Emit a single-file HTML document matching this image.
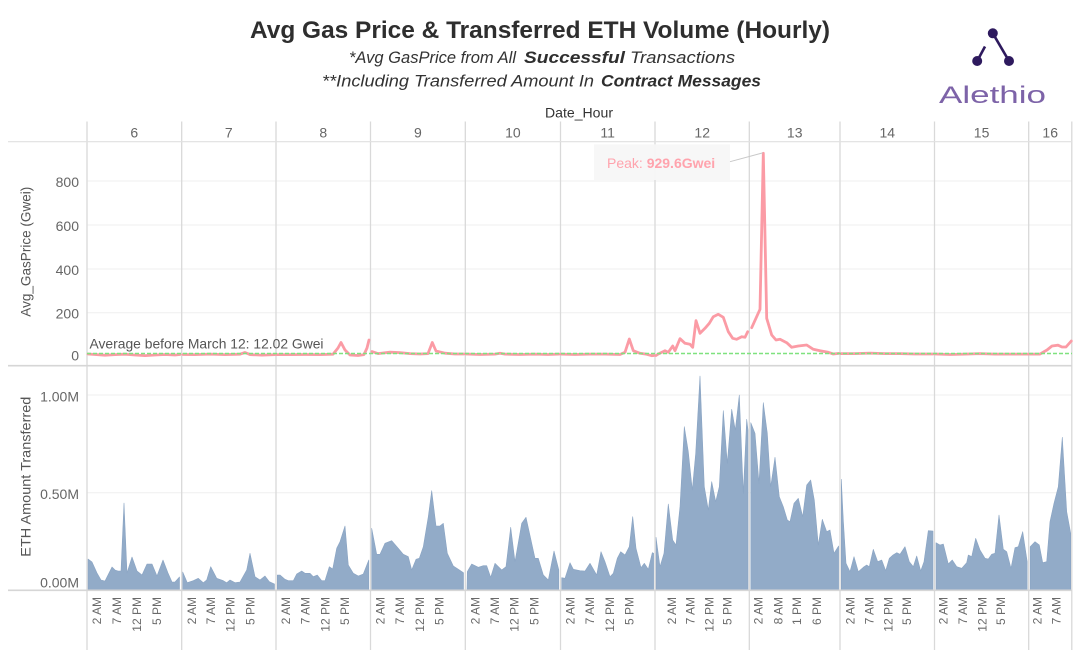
<!DOCTYPE html>
<html>
<head>
<meta charset="utf-8">
<style>
html,body{margin:0;padding:0;background:#fff;}
svg{display:block;}
text{font-family:"Liberation Sans",sans-serif;}
</style>
</head>
<body>
<svg width="1080" height="660" viewBox="0 0 1080 660" xmlns="http://www.w3.org/2000/svg">
<rect x="0" y="0" width="1080" height="660" fill="#fff"/>

<!-- Title -->
<text x="540" y="38" text-anchor="middle" font-size="24" font-weight="bold" fill="#2e2e2e" textLength="580" lengthAdjust="spacingAndGlyphs">Avg Gas Price &amp; Transferred ETH Volume (Hourly)</text>
<text x="349" y="63" font-size="17" font-style="italic" fill="#333" textLength="167" lengthAdjust="spacingAndGlyphs">*Avg GasPrice from All</text>
<text x="524" y="63" font-size="17" font-style="italic" font-weight="bold" fill="#2e2e2e" textLength="101" lengthAdjust="spacingAndGlyphs">Successful</text>
<text x="630" y="63" font-size="17" font-style="italic" fill="#333" textLength="105" lengthAdjust="spacingAndGlyphs">Transactions</text>
<text x="322" y="86.5" font-size="17" font-style="italic" fill="#333" textLength="272" lengthAdjust="spacingAndGlyphs">**Including Transferred Amount In</text>
<text x="601" y="86.5" font-size="17" font-style="italic" font-weight="bold" fill="#2e2e2e" textLength="160" lengthAdjust="spacingAndGlyphs">Contract Messages</text>

<!-- Logo -->
<line x1="992.8" y1="33.3" x2="1009" y2="61" stroke="#2e1a5e" stroke-width="2.6"/>
<line x1="977.2" y1="61" x2="985" y2="46.5" stroke="#2e1a5e" stroke-width="2.6"/>
<circle cx="992.8" cy="33.3" r="5" fill="#2e1a5e"/>
<circle cx="977.2" cy="61" r="5" fill="#2e1a5e"/>
<circle cx="1009" cy="61" r="5" fill="#2e1a5e"/>
<text x="939" y="103" font-size="24" fill="#7d63a8" textLength="107" lengthAdjust="spacingAndGlyphs">Alethio</text>

<!-- Header -->
<text x="545" y="117.5" font-size="14" fill="#333" textLength="68" lengthAdjust="spacingAndGlyphs">Date_Hour</text>
<g font-size="14" fill="#666" text-anchor="middle">
<text x="134.3" y="137.5">6</text>
<text x="228.8" y="137.5">7</text>
<text x="323.3" y="137.5">8</text>
<text x="417.9" y="137.5">9</text>
<text x="512.9" y="137.5">10</text>
<text x="607.7" y="137.5">11</text>
<text x="702.2" y="137.5">12</text>
<text x="794.7" y="137.5">13</text>
<text x="887.3" y="137.5">14</text>
<text x="981.6" y="137.5">15</text>
<text x="1050.2" y="137.5">16</text>
</g>

<!-- Grid lines -->
<g stroke="#efefef" stroke-width="1">
<line x1="87" y1="181" x2="1072" y2="181"/>
<line x1="87" y1="225" x2="1072" y2="225"/>
<line x1="87" y1="269" x2="1072" y2="269"/>
<line x1="87" y1="312.7" x2="1072" y2="312.7"/>
<line x1="87" y1="395" x2="1072" y2="395"/>
<line x1="87" y1="492.7" x2="1072" y2="492.7"/>
</g>

<!-- Area (ETH volume) -->
<g fill="#92abc8" stroke="#8aa4c3" stroke-width="0.6" stroke-linejoin="round">
<polygon points="88,590 88,559 92,562 97,573 101,580 105,581 112,567 115,570 118,571 121,571 124,503 127,573 132,557 137,571 142,575 147,564 152,564 157,576 163,560 168,573 172,582 175,582 179.5,577 179.5,590"/>
<polygon points="182.7,590 182.7,572 187.3,582.7 193.3,580.7 198.3,578.3 203.3,582.7 206.7,580 210.7,566.7 216.7,578.3 223.3,580.7 226.7,582.7 230,580 235,582.7 240,582 246.7,570 250,553.3 255,576.7 260,580 265,576 269.3,581.7 274.5,584 274.5,590"/>
<polygon points="277.3,590 277.3,575 280,575 285,579.3 288.3,580.7 293.3,580.7 296.7,574 301.7,571 305,573.3 310,573.3 313.3,576.7 317.3,575 321.7,580.7 325,580.7 329.3,566.7 332.7,569 336.7,548.3 340,541.7 345,526 348.3,565 353.3,573.3 358.3,576 363.3,574 368.8,560 368.8,590"/>
<polygon points="371.7,590 371.7,528.3 376.7,554.3 380,554.3 385,543.3 391.7,540.7 398.3,548.3 403.3,554.3 408.3,556.7 411.7,570 416,559.3 419.3,558.3 423.3,546.7 428.3,516.7 431.7,490.7 436,526 440,526 443.3,523.3 447.3,553.3 453.3,566 458.3,569.3 463.5,572.7 463.5,590"/>
<polygon points="467,590 467.3,571.7 471.7,564 478.3,567.3 483.3,565.7 486.7,565.7 490.7,577.3 495,563.3 501.7,570 506,566.7 510.7,527.3 515,561.7 521.7,523.3 526,517.3 535,558.3 538.3,558.3 543.3,575 548.3,580 554,551 558.8,570 558.8,590"/>
<polygon points="561.7,590 561.7,577.7 565,578.3 570,562.7 573.3,569.3 580,570.7 585,571 590,563.3 596.7,575 601,551.7 605,561.7 610,576.7 613.3,573.3 617.3,558.3 620.7,551.7 625,555 629.3,546.7 632.7,516.7 636,548.3 641,567.7 644.3,563.3 648.3,569.3 652.3,552.7 653.6,553.3 653.6,590"/>
<polygon points="656,590 656,537.3 660,566.7 664,553.3 668.3,504 672.7,540 676,545 680,506.7 684.3,426.7 688.3,451.7 692.3,490 695.7,453.3 700,376 704.3,486.7 708.3,510 711.7,481.7 715.7,501.7 719.3,486.7 723.3,410.7 727.3,463.3 731.7,409.3 735.3,430 739.3,395 743.3,493.3 746.7,419.3 748,430 748,590"/>
<polygon points="750.8,590 750.8,422.7 755,433.3 759,483.3 763.3,402.7 767.3,433.3 770.7,486.7 775,457.3 779.3,496.7 783.3,506.7 787.3,520 790,521.7 794,503.3 798.3,498.3 802.7,516.7 806.7,485 810.7,480 814.3,500 818.3,545 822.3,519.3 826.7,531.7 830,530 834,553.3 838.6,546 838.6,590"/>
<polygon points="841.3,590 841.3,479.3 843.3,520 846,563.3 850,571.7 854,556.7 858.3,571.7 863.3,567.3 866.7,565 869.3,566.7 873.3,549.3 877.7,561.7 881.7,560 885.7,570.7 889.3,558.3 893,555 896.7,552.7 900,554.3 905,546.7 909.3,561.7 913.3,566.7 916.7,556 920.7,571 924,561.7 928.3,530.7 933,531 933,590"/>
<polygon points="936,590 936,542.7 940,545 943.3,544 948.3,564 952.3,560 956.7,566.7 961.7,568.3 966.7,562.7 968.3,555 971.7,556.7 975.7,538.3 980,550 985,558.3 988.3,559 991.7,554.3 995,553.3 999,515 1003.3,549.3 1006.7,551.7 1011,568.3 1015,547.7 1018.3,546.7 1022.7,531.7 1027.2,561.7 1027.2,590"/>
<polygon points="1030.2,590 1030.2,546.7 1035,541.7 1039.3,545 1042.7,562.7 1046.7,561.7 1050,521.7 1054,503.3 1058.3,486.7 1062.3,437.3 1066.7,511.7 1070.7,533.3 1070.7,590"/>
</g>

<!-- Day vertical lines -->
<g stroke="#d9d9d9" stroke-width="1.3">
<line x1="87" y1="121.5" x2="87" y2="650"/>
<line x1="181.7" y1="121.5" x2="181.7" y2="650"/>
<line x1="276" y1="121.5" x2="276" y2="650"/>
<line x1="370.5" y1="121.5" x2="370.5" y2="650"/>
<line x1="465.3" y1="121.5" x2="465.3" y2="650"/>
<line x1="560.5" y1="121.5" x2="560.5" y2="650"/>
<line x1="655" y1="121.5" x2="655" y2="650"/>
<line x1="749.3" y1="121.5" x2="749.3" y2="650"/>
<line x1="840" y1="121.5" x2="840" y2="650"/>
<line x1="934.5" y1="121.5" x2="934.5" y2="650"/>
<line x1="1028.7" y1="121.5" x2="1028.7" y2="650"/>
<line x1="1071.8" y1="121.5" x2="1071.8" y2="650"/>
</g>

<!-- Horizontal structure lines -->
<line x1="8" y1="141.7" x2="1072" y2="141.7" stroke="#e0e0e0" stroke-width="1.2"/>
<line x1="8" y1="365.7" x2="1072" y2="365.7" stroke="#d6d6d6" stroke-width="1.6"/>
<line x1="8" y1="590.3" x2="1072" y2="590.3" stroke="#d6d6d6" stroke-width="1.6"/>

<!-- Gas price line -->
<g fill="none" stroke="#fb9ba5" stroke-width="2.8" stroke-linejoin="round" stroke-linecap="round">
<polyline points="88,354 95,354.5 105,355.2 115,354.6 125,354.2 135,355 145,355.6 155,355 165,354.5 175,355 180,354.5"/>
<polyline points="183,354.5 195,354.6 210,354.1 225,354.6 240,354.2 245,352.5 250,354.6 262,355.1 275,354.6"/>
<polyline points="277,354.6 290,354.6 305,354.5 320,354.6 333,354.2 338,348 341,342.5 345,350 350,355 358,355.5 364,354.6 367,348 369,340"/>
<polyline points="372,351.6 378,353.6 390,352.2 400,352.6 410,353.6 420,354 428,353.6 432.3,342.5 436,351 445,353.2 455,354 464,354"/>
<polyline points="466,354 480,354.5 495,354.1 500,353.2 505,354.1 520,354.5 535,354.1 548,354.5 559,354.1"/>
<polyline points="561,354.1 575,354.5 590,354.1 605,354.1 620,354.5 625,352.3 629.3,339 633.3,350.7 640,353.3 646.7,354.3 651.7,355.7 654,355.5"/>
<polyline points="656,355.5 658.3,354 665,350.7 668.3,352.3 672.7,346 675,350.7 680,338.7 685,343.3 690,344.3 692.7,347.3 696,320.7 700,333.3 705,328.3 709.3,323.3 713.3,316.7 718.3,314.3 723.3,317.3 728.3,331.7 732.7,338.3 736.7,339.3 741.7,336.7 745,337.3 747.7,331.7"/>
<polyline points="751.7,327.7 760,309.3 763.3,153.3 766.7,318.3 771.7,335 776,340 780,339.3 786.7,342.7 791.7,347.3 798.3,346 806.7,345 813.3,349.3 820,350.7 828.3,352.3 833.3,354 839,353.4"/>
<polyline points="841,353.6 855,353.6 870,353.1 885,353.6 900,353.6 915,354 933,354"/>
<polyline points="935,354 950,354.5 965,354.1 980,353.6 995,354.1 1010,354.1 1028,354.1"/>
<polyline points="1030,354.1 1040,354.1 1047,350 1052,346 1058,345.2 1062,347 1066,347 1071.3,341"/>
</g>

<!-- Average reference line -->
<line x1="87" y1="353.5" x2="1072" y2="353.5" stroke="#7fe27f" stroke-width="1.5" stroke-dasharray="4,2"/>
<text x="89.5" y="348.5" font-size="14" fill="#555" textLength="234" lengthAdjust="spacingAndGlyphs">Average before March 12: 12.02 Gwei</text>

<!-- Peak annotation -->
<rect x="594" y="144.3" width="136" height="35.7" fill="#f6f6f6" opacity="0.92"/>
<line x1="730" y1="161.7" x2="762.7" y2="152.9" stroke="#c8c8c8" stroke-width="1"/>
<text x="607" y="167.8" font-size="14" fill="#ffa3ad"><tspan>Peak: </tspan><tspan font-weight="bold">929.6Gwei</tspan></text>

<!-- Y tick labels -->
<g font-size="14" fill="#666" text-anchor="end">
<text x="79" y="187">800</text>
<text x="79" y="231">600</text>
<text x="79" y="275">400</text>
<text x="79" y="318.7">200</text>
<text x="79" y="360.5">0</text>
<text x="79" y="401.5">1.00M</text>
<text x="79" y="499.2">0.50M</text>
<text x="79" y="587.5">0.00M</text>
</g>

<!-- Axis titles -->
<text transform="translate(30.5,251.7) rotate(-90)" text-anchor="middle" font-size="14" fill="#555" textLength="130" lengthAdjust="spacingAndGlyphs">Avg_GasPrice (Gwei)</text>
<text transform="translate(30.5,476.7) rotate(-90)" text-anchor="middle" font-size="14" fill="#555" textLength="160" lengthAdjust="spacingAndGlyphs">ETH Amount Transferred</text>

<!-- X tick labels -->
<g font-size="12" fill="#6a6a6a" text-anchor="end">
<text transform="translate(101,597) rotate(-90)">2 AM</text>
<text transform="translate(121,597) rotate(-90)">7 AM</text>
<text transform="translate(141,597) rotate(-90)">12 PM</text>
<text transform="translate(161,597) rotate(-90)">5 PM</text>

<text transform="translate(196,597) rotate(-90)">2 AM</text>
<text transform="translate(215,597) rotate(-90)">7 AM</text>
<text transform="translate(234.4,597) rotate(-90)">12 PM</text>
<text transform="translate(254.3,597) rotate(-90)">5 PM</text>

<text transform="translate(290,597) rotate(-90)">2 AM</text>
<text transform="translate(309.7,597) rotate(-90)">7 AM</text>
<text transform="translate(329.4,597) rotate(-90)">12 PM</text>
<text transform="translate(349.1,597) rotate(-90)">5 PM</text>

<text transform="translate(384.5,597) rotate(-90)">2 AM</text>
<text transform="translate(404.2,597) rotate(-90)">7 AM</text>
<text transform="translate(423.9,597) rotate(-90)">12 PM</text>
<text transform="translate(443.6,597) rotate(-90)">5 PM</text>

<text transform="translate(479.3,597) rotate(-90)">2 AM</text>
<text transform="translate(499,597) rotate(-90)">7 AM</text>
<text transform="translate(518.7,597) rotate(-90)">12 PM</text>
<text transform="translate(538.4,597) rotate(-90)">5 PM</text>

<text transform="translate(574.5,597) rotate(-90)">2 AM</text>
<text transform="translate(594.2,597) rotate(-90)">7 AM</text>
<text transform="translate(613.9,597) rotate(-90)">12 PM</text>
<text transform="translate(633.6,597) rotate(-90)">5 PM</text>

<text transform="translate(676,597) rotate(-90)">2 AM</text>
<text transform="translate(694.3,597) rotate(-90)">7 AM</text>
<text transform="translate(713.6,597) rotate(-90)">12 PM</text>
<text transform="translate(731.6,597) rotate(-90)">5 PM</text>

<text transform="translate(762.6,597) rotate(-90)">2 AM</text>
<text transform="translate(782.6,597) rotate(-90)">8 AM</text>
<text transform="translate(801,597) rotate(-90)">1 PM</text>
<text transform="translate(821,597) rotate(-90)">6 PM</text>

<text transform="translate(854.3,597) rotate(-90)">2 AM</text>
<text transform="translate(873.6,597) rotate(-90)">7 AM</text>
<text transform="translate(892.6,597) rotate(-90)">12 PM</text>
<text transform="translate(911,597) rotate(-90)">5 PM</text>

<text transform="translate(947.6,597) rotate(-90)">2 AM</text>
<text transform="translate(967,597) rotate(-90)">7 AM</text>
<text transform="translate(986.6,597) rotate(-90)">12 PM</text>
<text transform="translate(1005,597) rotate(-90)">5 PM</text>

<text transform="translate(1041.6,597) rotate(-90)">2 AM</text>
<text transform="translate(1060.3,597) rotate(-90)">7 AM</text>
</g>
</svg>
</body>
</html>
